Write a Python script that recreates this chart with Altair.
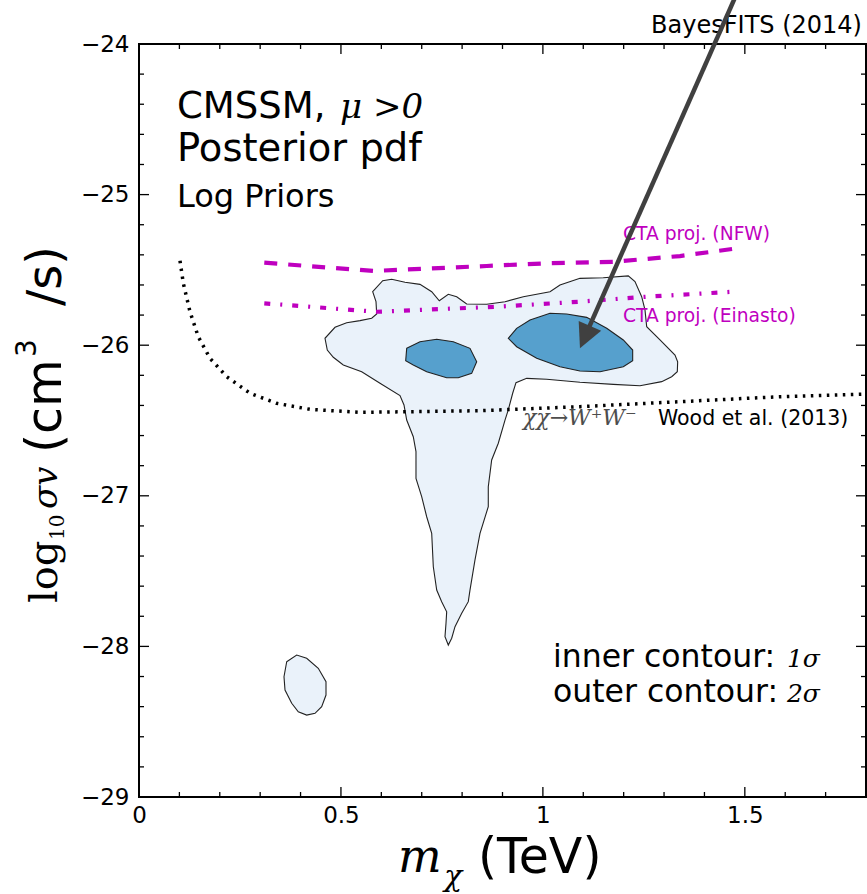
import altair as alt
import pandas as pd

# ---------------------------------------------------------------------------
# Credible regions (posterior pdf), m_chi in TeV vs log10(sigma v)
# ---------------------------------------------------------------------------
# 2-sigma region, main body
outer_main_x = [0.5786, 0.6034, 0.6257, 0.6586, 0.6957, 0.7247, 0.7435, 0.7658,
                0.7866, 0.8113, 0.8609, 0.9062, 0.9515, 1.0176, 1.0423, 1.0918,
                1.1495, 1.2114, 1.2280, 1.2446, 1.2528, 1.2570, 1.2899, 1.3271,
                1.3337, 1.3328, 1.3189, 1.2941, 1.2404, 1.1743, 1.0918, 1.0094,
                0.9599, 0.9334, 0.9252, 0.9143, 0.9062, 0.8896, 0.8732, 0.8648,
                0.8648, 0.8443, 0.8319, 0.8195, 0.8153, 0.7990, 0.7824, 0.7742,
                0.7658, 0.7576, 0.7601, 0.7618, 0.7494, 0.7371, 0.7287, 0.7247,
                0.7123, 0.6999, 0.6858, 0.6858, 0.6791, 0.6628, 0.6561, 0.6462,
                0.5967, 0.5514, 0.5058, 0.4811, 0.4662, 0.4605, 0.4853, 0.5142,
                0.5472, 0.5761, 0.5885, 0.5868]
outer_main_y = [-25.645, -25.572, -25.562, -25.582, -25.596, -25.645, -25.705, -25.662,
                -25.678, -25.726, -25.728, -25.711, -25.678, -25.645, -25.600, -25.556,
                -25.552, -25.540, -25.578, -25.678, -25.766, -25.877, -25.965, -26.065,
                -26.110, -26.176, -26.209, -26.242, -26.269, -26.260, -26.246, -26.226,
                -26.220, -26.249, -26.319, -26.430, -26.497, -26.651, -26.762, -26.940,
                -27.072, -27.249, -27.426, -27.626, -27.703, -27.780, -27.869, -27.946,
                -27.991, -27.936, -27.847, -27.770, -27.703, -27.626, -27.471, -27.249,
                -27.139, -27.006, -26.884, -26.707, -26.608, -26.497, -26.397, -26.335,
                -26.253, -26.176, -26.131, -26.080, -26.032, -25.954, -25.881, -25.851,
                -25.837, -25.821, -25.793, -25.711]

# 2-sigma region, low-mass island
outer_island_x = [0.3657, 0.3904, 0.4152, 0.4439, 0.4630, 0.4630, 0.4523, 0.4358,
                  0.4152, 0.3944, 0.3781, 0.3615, 0.3590]
outer_island_y = [-28.102, -28.057, -28.079, -28.145, -28.234, -28.323, -28.400, -28.444,
                  -28.456, -28.434, -28.378, -28.290, -28.201]

# 1-sigma regions
inner_left_x = [0.6628, 0.6957, 0.7371, 0.7782, 0.8195, 0.8361, 0.8237, 0.7905,
                0.7618, 0.7123, 0.6791, 0.6603]
inner_left_y = [-26.021, -25.977, -25.961, -25.977, -26.021, -26.110, -26.187, -26.216,
                -26.216, -26.176, -26.131, -26.103]
inner_right_x = [0.9143, 0.9351, 0.9681, 1.0176, 1.0589, 1.1084, 1.1580, 1.1991,
                 1.2223, 1.2223, 1.1991, 1.1414, 1.0918, 1.0423, 0.9847, 0.9351]
inner_right_y = [-25.954, -25.888, -25.833, -25.788, -25.793, -25.815, -25.888, -25.965,
                 -26.032, -26.103, -26.143, -26.176, -26.171, -26.143, -26.087, -26.010]

# CTA projected sensitivities
cta_nfw_x = [0.3102, 0.5801, 0.8609, 1.0094, 1.1743, 1.3394, 1.4798]
cta_nfw_y = [-25.452, -25.507, -25.474, -25.456, -25.446, -25.408, -25.357]
cta_ein_x = [0.3102, 0.5885, 0.8896, 1.0918, 1.2570, 1.4714]
cta_ein_y = [-25.722, -25.778, -25.744, -25.711, -25.678, -25.645]

# Fermi-LAT dwarf limit, WW channel
wood_x = [0.1015, 0.1097, 0.1263, 0.1468, 0.1758, 0.2171, 0.2748, 0.3409, 0.4234,
          0.5472, 0.6586, 0.8443, 1.0918, 1.3394, 1.5870, 1.8000]
wood_y = [-25.439, -25.589, -25.778, -25.944, -26.087, -26.209, -26.319, -26.386, -26.426,
          -26.446, -26.442, -26.435, -26.408, -26.375, -26.342, -26.324]

# Arrow: shaft from above the frame down to the head, head tip
arrow_x = [1.4905]
arrow_y = [-23.602]
arrow_x2 = [1.1092]
arrow_y2 = [-25.912]
arrow_tip_x = [1.0918]
arrow_tip_y = [-26.021]

# Tick positions
x_major = [0.0, 0.5, 1.0, 1.5]
x_minor = [0.1, 0.2, 0.3, 0.4, 0.6, 0.7, 0.8, 0.9, 1.1, 1.2, 1.3, 1.4, 1.6, 1.7]
y_major = [-29, -28, -27, -26, -25, -24]
y_minor = [-28.8, -28.6, -28.4, -28.2, -27.8, -27.6, -27.4, -27.2, -26.8, -26.6,
           -26.4, -26.2, -25.8, -25.6, -25.4, -25.2, -24.8, -24.6, -24.4, -24.2]

# Annotation anchors (data coordinates)
model_label, model_x, model_y = ["CMSSM,"], [0.0941], [-24.492]
pdf_label, pdf_x, pdf_y = ["Posterior pdf"], [0.0941], [-24.777]
prior_label, prior_x, prior_y = ["Log Priors"], [0.0941], [-25.082]
mu_label, mu_x, mu_y = ["\u03bc >0"], [0.4977], [-24.492]
cta_labels = ["CTA proj. (NFW)", "CTA proj. (Einasto)"]
cta_lx = [1.1983, 1.1983]
cta_ly = [-25.301, -25.844]
wood_label, wood_lx, wood_ly = ["Wood et al. (2013)"], [1.285], [-26.530]
chan_label, chan_lx, chan_ly = ["\u03c7\u03c7\u2192W\u207aW\u207b"], [0.9507], [-26.530]
contour_labels = ["inner contour:", "outer contour:"]
contour_lx = [1.025, 1.025]
contour_ly = [-28.137, -28.369]
sigma_labels = ["1\u03c3", "2\u03c3"]
sigma_lx = [1.6043, 1.6043]
sigma_ly = [-28.137, -28.369]
credit_label, credit_x, credit_y = ["BayesFITS (2014)"], [1.790], [-23.927]

# ---------------------------------------------------------------------------
W, H = 727, 753
SANS = "DejaVu Sans"
SERIF = "DejaVu Serif"
MAGENTA = "#bf00bf"

xscale = alt.Scale(domain=[0, 1.8], nice=False, zero=False)
yscale = alt.Scale(domain=[-29, -24], nice=False, zero=False)
xaxis = alt.Axis(values=x_major, format="~g", title=None, ticks=False, domain=False,
                 grid=False, labelFont=SANS, labelFontSize=23, labelColor="black",
                 labelPadding=7, labelFlush=False)
yaxis = alt.Axis(values=y_major, format="d", title=None, ticks=False, domain=False,
                 grid=False, labelFont=SANS, labelFontSize=23, labelColor="black",
                 labelPadding=10)
X = alt.X("x:Q", scale=xscale, axis=xaxis)
Y = alt.Y("y:Q", scale=yscale, axis=yaxis)


def polygons(parts):
    frames = []
    for name, xs, ys in parts:
        frames.append(pd.DataFrame({"x": xs, "y": ys, "part": name, "i": range(len(xs))}))
    return pd.concat(frames, ignore_index=True)


def region(df, fill):
    return alt.Chart(df).mark_line(
        interpolate="linear-closed", fill=fill, stroke="#222222", strokeWidth=1.1
    ).encode(x=X, y=Y, detail="part:N", order="i:Q")


def curve(xs, ys, color, width, dash):
    df = pd.DataFrame({"x": xs, "y": ys, "i": range(len(xs))})
    return alt.Chart(df).mark_line(
        color=color, strokeWidth=width, strokeDash=dash, strokeCap="butt"
    ).encode(x=X, y=Y, order="i:Q")


def text(labels, xs, ys, **style):
    df = pd.DataFrame({"x": xs, "y": ys, "t": labels})
    style.setdefault("font", SANS)
    style.setdefault("color", "black")
    style.setdefault("baseline", "alphabetic")
    style.setdefault("align", "left")
    return alt.Chart(df).mark_text(**style).encode(x=X, y=Y, text="t:N")


def pixel_text(label, px, py, **style):
    style.setdefault("color", "black")
    style.setdefault("baseline", "alphabetic")
    style.setdefault("align", "left")
    return alt.Chart(pd.DataFrame({"t": [label]})).mark_text(**style).encode(
        x=alt.value(px), y=alt.value(py), text="t:N")


outer = region(polygons([("main", outer_main_x, outer_main_y),
                         ("island", outer_island_x, outer_island_y)]), "#eaf2fa")
inner = region(polygons([("left", inner_left_x, inner_left_y),
                         ("right", inner_right_x, inner_right_y)]), "#56a0cd")

nfw = curve(cta_nfw_x, cta_nfw_y, MAGENTA, 4.2, [13, 11])
einasto = curve(cta_ein_x, cta_ein_y, MAGENTA, 4.2, [6, 10, 2, 10])
wood = curve(wood_x, wood_y, "black", 3.5, [2.5, 5.5])


# inward ticks on all four sides
def xticks(values, length):
    df = pd.DataFrame({"x": values})
    base = alt.Chart(df).mark_rule(color="black", strokeWidth=1.3)
    return (base.encode(x=X, y=alt.value(H), y2=alt.value(H - length))
            + base.encode(x=X, y=alt.value(0), y2=alt.value(length)))


def yticks(values, length):
    df = pd.DataFrame({"y": values})
    base = alt.Chart(df).mark_rule(color="black", strokeWidth=1.3)
    return (base.encode(y=Y, x=alt.value(0), x2=alt.value(length))
            + base.encode(y=Y, x=alt.value(W), x2=alt.value(W - length)))


ticks = xticks(x_major, 10) + xticks(x_minor, 5) + yticks(y_major, 10) + yticks(y_minor, 5)

labels = (
    text(model_label, model_x, model_y, fontSize=37)
    + text(pdf_label, pdf_x, pdf_y, fontSize=38.5)
    + text(prior_label, prior_x, prior_y, fontSize=32)
    + text(mu_label, mu_x, mu_y, font=SERIF, fontStyle="italic", fontSize=34)
    + text(cta_labels, cta_lx, cta_ly, fontSize=18.7, color=MAGENTA)
    + text(wood_label, wood_lx, wood_ly, fontSize=20.5)
    + text(chan_label, chan_lx, chan_ly, font=SERIF, fontStyle="italic", fontSize=22,
           color="#4d4d4d")
    + text(contour_labels, contour_lx, contour_ly, fontSize=31.5)
    + text(sigma_labels, sigma_lx, sigma_ly, font=SERIF, fontStyle="italic", fontSize=25)
    + text(credit_label, credit_x, credit_y, fontSize=24, align="right")
)

# axis titles built from pieces (math parts in serif)
ytitle = (
    pixel_text("log", -82, 559, font=SERIF, fontSize=40, angle=270)
    + pixel_text("10", -75, 496, font=SERIF, fontSize=20, angle=270)
    + pixel_text("\u03c3v", -82, 465, font=SERIF, fontStyle="italic", fontSize=34, angle=270)
    + pixel_text("(cm", -78, 409, font=SANS, fontSize=49, angle=270)
    + pixel_text("3", -103, 313, font=SANS, fontSize=28, angle=270)
    + pixel_text("/s)", -78, 262, font=SANS, fontSize=48, angle=270)
)
xtitle = (
    pixel_text("m", 259, 828, font=SERIF, fontStyle="italic", fontSize=46)
    + pixel_text("\u03c7", 305, 842, font=SERIF, fontStyle="italic", fontSize=30)
    + pixel_text("(TeV)", 339, 829, font=SANS, fontSize=49)
)

shaft = alt.Chart(pd.DataFrame({"x": arrow_x, "y": arrow_y, "x2": arrow_x2, "y2": arrow_y2})).mark_rule(
    color="#404040", strokeWidth=4.5, strokeCap="butt"
).encode(x=X, y=Y, x2="x2:Q", y2="y2:Q")
head = alt.Chart(pd.DataFrame({"x": arrow_tip_x, "y": arrow_tip_y})).mark_point(
    shape="M0,0L-0.5,-1L0.5,-1Z", filled=True, fill="#404040", stroke=None,
    size=2420, angle=23.9, opacity=1
).encode(x=X, y=Y)

chart = alt.layer(
    outer, inner, nfw, einasto, wood, ticks, labels, ytitle, xtitle, shaft, head
).properties(
    width=W, height=H,
    autosize=alt.AutoSizeParams(type="none"),
    padding={"left": 139, "top": 44, "right": 1, "bottom": 97},
    background="white",
).configure_view(stroke="black", strokeWidth=2)

chart.save("out.html", embed_options={"renderer": "svg", "actions": False})
